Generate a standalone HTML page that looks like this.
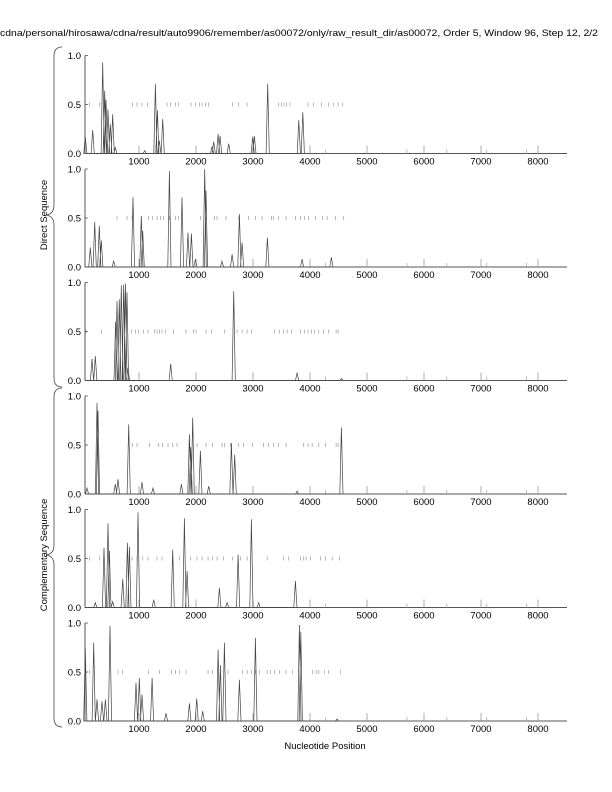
<!DOCTYPE html>
<html><head><meta charset="utf-8"><style>
body{margin:0;background:#fff;}
svg{display:block;font-family:"Liberation Sans",sans-serif;}
</style></head><body>
<svg id="chart" width="612" height="792" viewBox="0 0 612 792" xmlns="http://www.w3.org/2000/svg">
<text x="0" y="36" font-size="9.5" textLength="598" lengthAdjust="spacingAndGlyphs">cdna/personal/hirosawa/cdna/result/auto9906/remember/as00072/only/raw_result_dir/as00072, Order 5, Window 96, Step 12, 2/2</text>
<path d="M62,47 Q54,47 54,56 L54,205 Q54,214 46,215 Q54,216 54,225 L54,378 Q54,387 62,387" fill="none" stroke="#444" stroke-width="0.8"/>
<path d="M62,388 Q54,388 54,397 L54,545 Q54,554 46,555 Q54,556 54,565 L54,718 Q54,727 62,727" fill="none" stroke="#444" stroke-width="0.8"/>
<text font-size="9.5" transform="translate(47,215) rotate(-90)" text-anchor="middle">Direct Sequence</text>
<text font-size="9.5" transform="translate(47,555) rotate(-90)" text-anchor="middle">Complementary Sequence</text>
<text x="325" y="749" font-size="9.5" text-anchor="middle">Nucleotide Position</text>
<g id="panels"></g>
</svg>
<script>
const xTicks = [1000,2000,3000,4000,5000,6000,7000,8000];
const minorTicks = [4270,5700,6400,7100,7800];
const yTicks = [0,0.5,1.0];
const yTickLabels = ["0.0","0.5","1.0"];
const p1Pos = [58,187,363,398,421,456,497,538,585,1100,1287,1322,1357,1416,2282,2311,2387,2422,2574,2995,3024,3258,3803,3873];
const p1Val = [0.17,0.24,0.93,0.64,0.55,0.45,0.3,0.4,0.06,0.03,0.71,0.44,0.13,0.35,0.07,0.12,0.2,0.18,0.1,0.17,0.18,0.71,0.34,0.42];
const p2Pos = [146,222,304,339,556,895,1041,1065,1533,1755,1860,1919,1989,2153,2176,2457,2633,2761,2808,3253,3861,4376];
const p2Val = [0.2,0.46,0.42,0.27,0.06,0.71,0.52,0.37,0.98,0.71,0.35,0.34,0.08,1.0,0.78,0.06,0.13,0.54,0.25,0.3,0.08,0.1];
const p3Pos = [176,234,590,614,655,690,731,761,790,807,1556,2662,3773,4551];
const p3Val = [0.22,0.25,0.6,0.81,0.83,0.97,0.98,0.99,0.9,0.13,0.17,0.91,0.08,0.02];
const p4Pos = [88,263,281,585,632,819,1053,1246,1743,1884,1907,1942,2077,2223,2621,2679,3773,4551];
const p4Val = [0.06,0.93,0.85,0.1,0.15,0.71,0.12,0.06,0.1,0.61,0.48,0.78,0.44,0.08,0.52,0.4,0.03,0.68];
const p5Pos = [234,386,456,480,538,714,796,831,983,1258,1591,1796,1843,2410,2545,2738,2972,3100,3744];
const p5Val = [0.05,0.61,0.86,0.58,0.06,0.29,0.66,0.62,0.97,0.08,0.59,0.91,0.37,0.2,0.05,0.54,0.9,0.05,0.27];
const p6Pos = [58,205,263,351,410,491,948,1006,1053,1229,1474,1884,2012,2118,2387,2428,2498,2761,3042,3814,3838,4475];
const p6Val = [0.74,0.8,0.22,0.2,0.22,0.97,0.39,0.44,0.27,0.44,0.08,0.18,0.23,0.1,0.73,0.57,0.8,0.42,0.85,0.98,0.91,0.02];
const s1 = [129,304,889,965,1053,1147,1492,1550,1638,1697,1913,1989,2059,2106,2165,2223,2644,2750,2896,3452,3498,3545,3592,3650,3966,4066,4200,4329,4417,4493,4575];
const s2 = [614,790,878,1041,1170,1240,1316,1375,1433,1533,1638,1697,2077,2176,2328,2369,2527,2750,2925,3042,3159,3323,3364,3452,3580,3744,3832,3908,3978,4095,4224,4300,4446,4592];
const s3 = [70,339,866,936,995,1082,1158,1275,1316,1357,1404,1463,1609,1825,1960,2001,2176,2270,2504,2720,2808,2896,2972,3381,3463,3539,3598,3674,3832,3908,3966,4025,4083,4154,4241,4329,4458,4493];
const s4 = [889,965,1182,1346,1416,1509,1591,1667,2018,2176,2293,2457,2504,2603,2750,2837,2995,3188,3276,3364,3452,3580,3890,3966,4037,4154,4271,4458,4493];
const s5 = [129,304,878,965,1065,1158,1316,1404,1708,1901,2018,2106,2211,2293,2369,2486,2644,2779,2896,3247,3539,3627,3832,3890,3931,4007,4183,4271,4388,4516];
const s6 = [129,632,714,1170,1357,1568,1638,1708,1825,2211,2293,2562,2820,2896,2972,3042,3112,3247,3305,3381,3463,3580,3697,4048,4107,4154,4259,4329,4534];

const panels = [[p1Pos,p1Val,s1],[p2Pos,p2Val,s2],[p3Pos,p3Val,s3],[p4Pos,p4Val,s4],[p5Pos,p5Val,s5],[p6Pos,p6Val,s6]];
const baselines = [153.5,267,380.5,494,607.5,721];
const H = 98;
const X0 = 85, X1 = 567;
function xs(v){ return 82 + v*0.057; }
const NS = "http://www.w3.org/2000/svg";
const root = document.getElementById('panels');
function mk(tag, attrs, parent){
  const e = document.createElementNS(NS, tag);
  for (const k in attrs) e.setAttribute(k, attrs[k]);
  parent.appendChild(e);
  return e;
}
panels.forEach((p, i) => {
  const b = baselines[i];
  const ys = v => b - v*H;
  const g = mk('g', {}, root);
  
  
  const xa = mk('line', {x1:X0, x2:X1, y1:b, y2:b, stroke:'#555', 'stroke-width':1}, g);
  
  
  const ya = mk('line', {x1:X0, x2:X0, y1:ys(1), y2:b, stroke:'#555', 'stroke-width':1}, g);
  
  
  yTicks.forEach((t, j) => {
    const tk = mk('line', {x1:X0, x2:X0+3, y1:ys(t), y2:ys(t), stroke:'#555', 'stroke-width':0.8}, g);
    
    
    const tl = mk('text', {x:X0-4, y:ys(t)+3.5, 'font-size':9.5, 'text-anchor':'end'}, g);
    tl.textContent = yTickLabels[j];
    
    
  });
  xTicks.forEach(t => {
    const tk = mk('line', {x1:xs(t), x2:xs(t), y1:b, y2:b-8, stroke:'#999', 'stroke-width':0.8}, g);
    
    
    const tl = mk('text', {x:xs(t), y:b+11, 'font-size':9.5, 'text-anchor':'middle'}, g);
    tl.textContent = t;
    
    
  });
  minorTicks.forEach(t => {
    const tk = mk('line', {x1:xs(t), x2:xs(t), y1:b, y2:b-4, stroke:'#aaa', 'stroke-width':0.8}, g);
    
    
  });
  p[2].forEach(t => {
    const m = mk('line', {x1:xs(t), x2:xs(t), y1:ys(0.5)-2, y2:ys(0.5)+2, stroke:'#888', 'stroke-width':0.6}, g);
    
    
  });
  let d = 'M' + xs(50) + ',' + b;
  p[0].forEach((pos, j) => {
    d += ' L' + xs(pos-28).toFixed(1) + ',' + b + ' L' + xs(pos).toFixed(1) + ',' + ys(p[1][j]).toFixed(1) + ' L' + xs(pos+28).toFixed(1) + ',' + b;
  });
  const path = mk('path', {d:d, fill:'none', stroke:'#444', 'stroke-width':0.7}, g);
  
  
});
</script>
</body></html>
